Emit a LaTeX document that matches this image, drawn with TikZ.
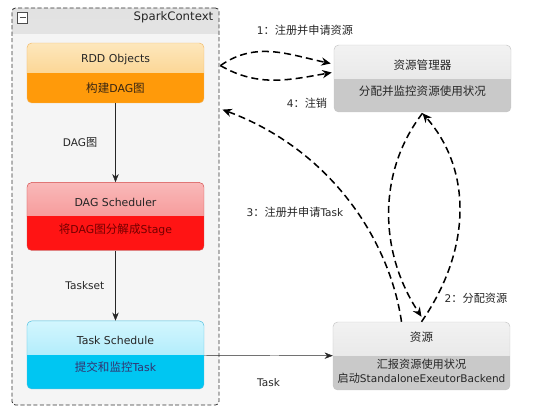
\documentclass[tikz,border=0pt]{standalone}
\usepackage{fontspec}
\setmainfont{DejaVu Sans}
\newfontfamily\cjk[Scale=1.06]{Noto Sans CJK SC}
\newcommand{\zh}[1]{{\cjk #1}}
\usetikzlibrary{positioning}
\usetikzlibrary{calc}
\usetikzlibrary{arrows.meta}

\definecolor{rddtop}{HTML}{FDE7BC}
\definecolor{rddmid}{HTML}{FBC670}
\definecolor{rddlow}{HTML}{FF9A0A}
\definecolor{rddline}{HTML}{F2B866}
\definecolor{dagtop}{HTML}{F9B9B9}
\definecolor{dagmid}{HTML}{F47E7E}
\definecolor{daglow}{HTML}{FF1414}
\definecolor{dagline}{HTML}{D44848}
\definecolor{tsktop}{HTML}{D3F6FE}
\definecolor{tskmid}{HTML}{92E4F9}
\definecolor{tsklow}{HTML}{00C6F2}
\definecolor{tskline}{HTML}{4CBFDF}
\definecolor{mgrtop}{HTML}{F2F2F2}
\definecolor{mgrmid}{HTML}{E0E0E0}
\definecolor{mgrlow}{HTML}{C9C9C9}
\definecolor{mgrline}{HTML}{C4C4C4}
\definecolor{ctxfill}{HTML}{F5F5F5}
\definecolor{ctxhead}{HTML}{E2E2E2}

\begin{document}
\begin{tikzpicture}[
        x=0.03cm,
        y=-0.03cm,
        context/.style={
            draw=black!80,
            line width=0.7pt,
            dash pattern=on 3.5pt off 2pt,
            fill=ctxfill,
            rounded corners=3pt,
            inner sep=0pt,
            path picture={
                \shade[sharp corners, top color=ctxhead, bottom color=ctxfill]
                    (path picture bounding box.north west) rectangle
                    ($(path picture bounding box.north east)+(0,26)$);
            },
        },
        stage/.style n args={4}{
            draw=#4,
            rounded corners=4pt,
            minimum width=5.31cm,
            minimum height=2.04cm,
            inner sep=0pt,
            path picture={
                \shade[sharp corners, top color=#1, bottom color=#2]
                    (path picture bounding box.north west) rectangle (path picture bounding box.east);
                \fill[sharp corners, #3]
                    (path picture bounding box.west) rectangle (path picture bounding box.south east);
            },
        },
        caption/.style={
            font=\fontsize{9.3}{11}\selectfont,
            text=black!85,
            align=center,
        },
        edgelabel/.style={
            font=\fontsize{9}{10}\selectfont,
            text=black!85,
        },
        flow/.style={
            -{Stealth[length=7pt, width=5.5pt]},
            thin,
            black!85,
        },
        signal/.style={
            -{Stealth[length=8pt, width=7pt]},
            line width=1.3pt,
            dash pattern=on 6pt off 3.5pt,
        },
    ]
    \useasboundingbox (0,0) rectangle (554,417);

    % SparkContext frame.
    \node[context, minimum width=6.21cm, minimum height=11.91cm] (sc) at (115.5,206.5) {};
    \node[anchor=east, font=\fontsize{10}{12}\selectfont, text=black!85] (sctitle)
        at ($(sc.north east)+(-2,10)$) {SparkContext};
    \node[draw=black!70, fill=white, minimum width=0.3cm, minimum height=0.33cm, inner sep=0pt,
        path picture={
            \draw[thick] ($(path picture bounding box.west)+(2,0)$) -- ($(path picture bounding box.east)+(-2,0)$);
        }] (scmin) at ($(sc.north west)+(11,10)$) {};

    % Define stages.
    \node[stage={rddtop}{rddmid}{rddlow}{rddline}, minimum height=1.8cm] (rdd) at (115.5,73) {};
    \node[stage={dagtop}{dagmid}{daglow}{dagline}, below=2.37cm of rdd] (dag) {};
    \node[stage={tsktop}{tskmid}{tsklow}{tskline}, below=2.1cm of dag] (tsk) {};

    \node[stage={mgrtop}{mgrmid}{mgrlow}{mgrline}, minimum height=2.01cm] (mgr) at (422.5,78.5) {};
    \node[stage={mgrtop}{mgrmid}{mgrlow}{mgrline}] (res) at (421.5,356) {};

    % Texts in stages.
    \node[caption] (rddt) at ($(rdd.north)!0.28!(rdd.south)$) {RDD Objects};
    \node[caption, text=black!70!brown] (rdds) at ($(rdd.north)!0.75!(rdd.south)$) {\zh{构建}DAG\zh{图}};

    \node[caption] (dagt) at ($(dag.north)!0.30!(dag.south)$) {DAG Scheduler};
    \node[caption, text=red!45!black] (dags) at ($(dag.north)!0.69!(dag.south)$) {\zh{将}DAG\zh{图分解成}Stage};

    \node[caption] (tskt) at ($(tsk.north)!0.29!(tsk.south)$) {Task Schedule};
    \node[caption, text=blue!30!black!80] (tsks) at ($(tsk.north)!0.68!(tsk.south)$) {\zh{提交和监控}Task};

    \node[caption] (mgrt) at ($(mgr.north)!0.30!(mgr.south)$) {\zh{资源管理器}};
    \node[caption] (mgrs) at ($(mgr.north)!0.69!(mgr.south)$) {\zh{分配并监控资源使用状况}};

    \node[caption] (rest) at ($(res.north)!0.22!(res.south)$) {\zh{资源}};
    \node[caption, font=\fontsize{9}{12}\selectfont] (ress) at ($(res.north)!0.72!(res.south)$)
        {\zh{汇报资源使用状况}\\\zh{启动}StandaloneExeutorBackend};

    % Draw flow.
    \draw[flow] (rdd) -- node[edgelabel, left=12pt] {DAG\zh{图}} (dag);
    \draw[flow] (dag) -- node[edgelabel, left=6pt] {Taskset} (tsk);
    \draw[flow] (tsk) -- node[edgelabel, below=16pt] {Task} (res);

    % Define ends of signals.
    \coordinate (sc1) at ($(sc.north east)+(1,58)$);
    \coordinate (sc3) at ($(sc.north east)+(3,102)$);
    \coordinate (mgr1) at ($(mgr.west)+(-3,-15)$);
    \coordinate (mgr4) at ($(mgr.west)+(-2,-6)$);
    \coordinate (mgr2) at ($(mgr.south)+(0,1)$);
    \coordinate (res3) at ($(res.north)+(-20,0)$);
    \coordinate (res2) at ($(res.north)+(0,-5)$);

    % Draw signals.
    \draw[signal] (sc1) to[out=35, in=168] (mgr1);
    \draw[signal] (sc1) to[out=-30, in=190] (mgr4);
    \draw[signal] (res3) .. controls +(-12,-82) and +(108,40) .. (sc3);
    \draw[signal] (mgr2) .. controls +(-44,57) and +(-44,-67) .. (res2);
    \draw[signal] (res.north) .. controls +(50,-72) and +(50,57) .. (mgr2);

    % Signal labels.
    \node[edgelabel] (lbl1) at (305,30) {1\zh{：注册并申请资源}};
    \node[edgelabel] (lbl4) at (307,103) {4\zh{：注销}};
    \node[edgelabel] (lbl3) at (295,212) {3\zh{：注册并申请}Task};
    \node[edgelabel] (lbl2) at (476,298) {2\zh{：分配资源}};

\end{tikzpicture}
\end{document}
